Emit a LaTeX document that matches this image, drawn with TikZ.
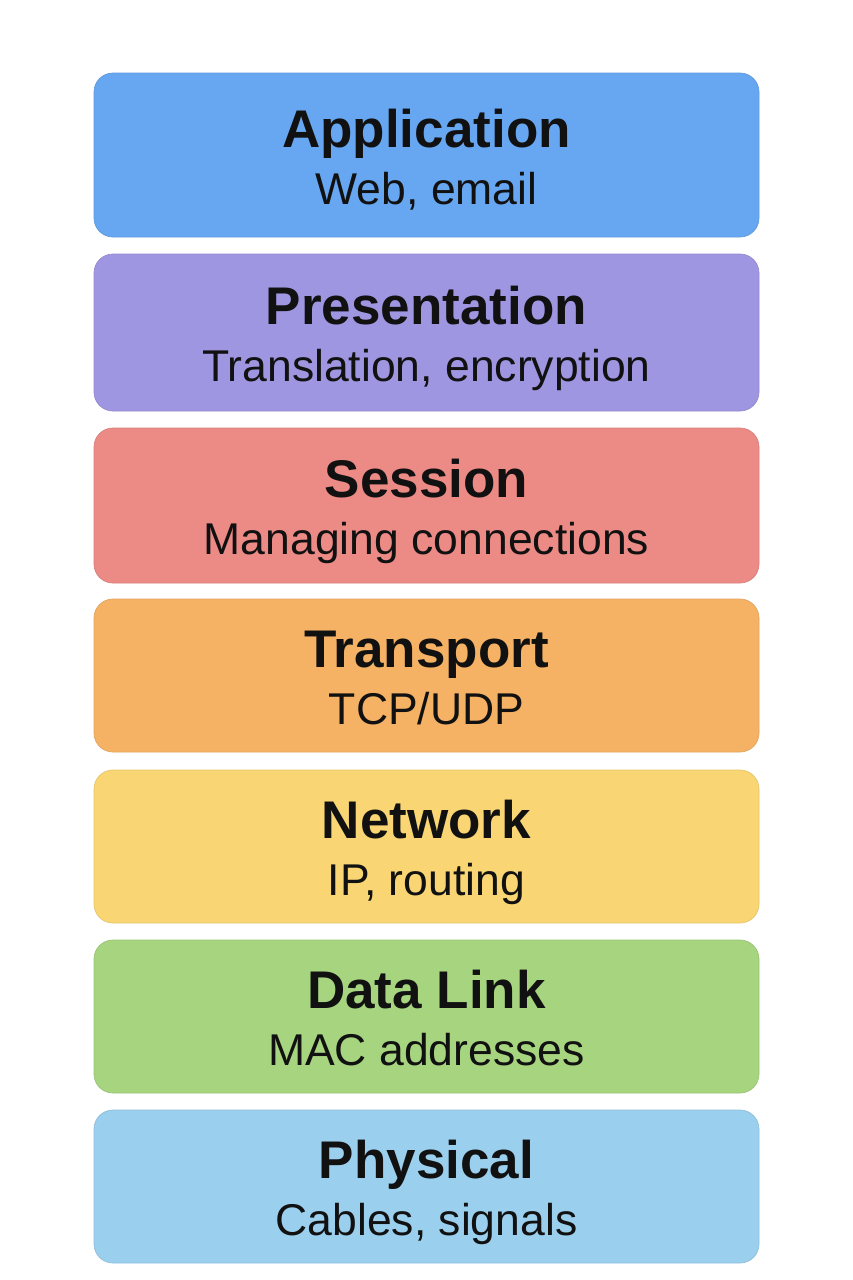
\documentclass[tikz,border=0pt]{standalone}
\usepackage{fontspec}
\setmainfont{Liberation Sans}
\usepackage{tikz}
\usetikzlibrary{calc, positioning}
\definecolor{appc}{HTML}{67A7F2}
\definecolor{presc}{HTML}{9F96E1}
\definecolor{sessc}{HTML}{EC8A86}
\definecolor{transc}{HTML}{F6B264}
\definecolor{netc}{HTML}{F9D673}
\definecolor{linkc}{HTML}{A6D47F}
\definecolor{physc}{HTML}{9BCFEE}
\definecolor{inkc}{HTML}{111111}
\tikzset{
  layerbox/.style={rectangle, rounded corners=19pt, line width=0.7pt,
    minimum width=665pt, inner sep=0pt},
  titletext/.style={font=\fontsize{53}{53}\selectfont\bfseries, text=inkc,
    inner sep=0pt, anchor=base},
  detailtext/.style={font=\fontsize{44.5}{44.5}\selectfont, text=inkc,
    inner sep=0pt, anchor=base}
}
% #1 name, #2 top, #3 bottom, #4 colour, #5 title, #6 detail
\newcommand{\osilayer}[6]{%
  \node[layerbox, fill=#4, draw=#4!92!black,
        minimum height={(#3-#2)*1pt}] (#1) at (426.5,{(#2+#3)/2}) {};
  \node[titletext] (#1-title) at ($(#1.center)+(0,-8)$) {#5};
  \node[detailtext] (#1-detail) at ($(#1.center)+(0,49)$) {#6};
}

\begin{document}
\begin{tikzpicture}[x=1pt, y=-1pt]
  \useasboundingbox[fill=white] (0,0) rectangle (853,1280);
  \osilayer{app}{73}{237}{appc}{Application}{Web, email}
  \osilayer{pres}{254}{411}{presc}{Presentation}{Translation, encryption}
  \osilayer{sess}{428}{583}{sessc}{Session}{Managing connections}
  \osilayer{trans}{599}{752}{transc}{Transport}{TCP/UDP}
  \osilayer{net}{770}{923}{netc}{Network}{IP, routing}
  \osilayer{link}{940}{1093}{linkc}{Data Link}{MAC addresses}
  \osilayer{phys}{1110}{1263}{physc}{Physical}{Cables, signals}
\end{tikzpicture}
\end{document}
